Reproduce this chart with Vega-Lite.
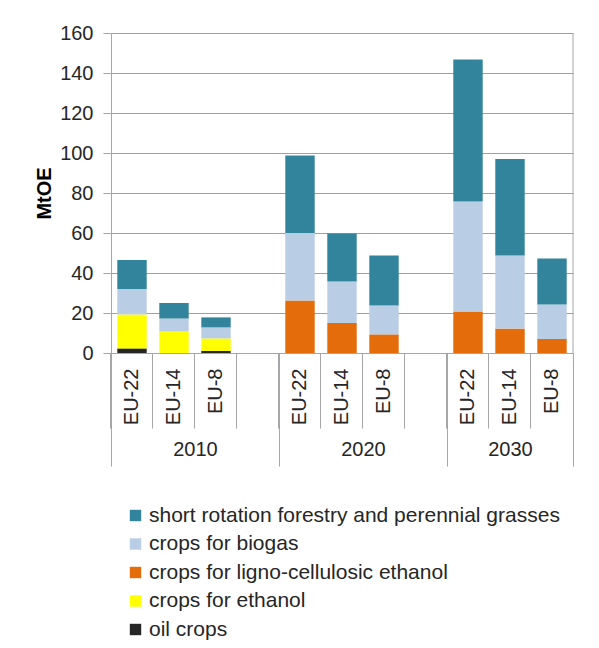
{
  "$schema": "https://vega.github.io/schema/vega-lite/v6.json",
  "width": 462,
  "height": 320,
  "padding": {"left": 34, "top": 23, "right": 5, "bottom": 0},
  "background": "white",
  "config": {
    "font": "Liberation Sans",
    "view": {"stroke": null},
    "axis": {"labelFont": "Liberation Sans", "labelFontSize": 20, "labelColor": "#262626", "titleFont": "Liberation Sans"}
  },
  "layer": [
    {
      "data": {
        "values": [
          {"year": "2010", "region": "EU-22", "category": "oil crops", "value": 2.3},
          {"year": "2010", "region": "EU-22", "category": "crops for ethanol", "value": 17.0},
          {"year": "2010", "region": "EU-22", "category": "crops for biogas", "value": 12.7},
          {"year": "2010", "region": "EU-22", "category": "short rotation forestry and perennial grasses", "value": 14.5},
          {"year": "2010", "region": "EU-14", "category": "crops for ethanol", "value": 10.8},
          {"year": "2010", "region": "EU-14", "category": "crops for biogas", "value": 6.5},
          {"year": "2010", "region": "EU-14", "category": "short rotation forestry and perennial grasses", "value": 7.7},
          {"year": "2010", "region": "EU-8", "category": "oil crops", "value": 1.0},
          {"year": "2010", "region": "EU-8", "category": "crops for ethanol", "value": 6.3},
          {"year": "2010", "region": "EU-8", "category": "crops for biogas", "value": 5.5},
          {"year": "2010", "region": "EU-8", "category": "short rotation forestry and perennial grasses", "value": 5.0},
          {"year": "2020", "region": "EU-22", "category": "crops for ligno-cellulosic ethanol", "value": 26.3},
          {"year": "2020", "region": "EU-22", "category": "crops for biogas", "value": 33.7},
          {"year": "2020", "region": "EU-22", "category": "short rotation forestry and perennial grasses", "value": 38.7},
          {"year": "2020", "region": "EU-14", "category": "crops for ligno-cellulosic ethanol", "value": 15.0},
          {"year": "2020", "region": "EU-14", "category": "crops for biogas", "value": 20.7},
          {"year": "2020", "region": "EU-14", "category": "short rotation forestry and perennial grasses", "value": 24.1},
          {"year": "2020", "region": "EU-8", "category": "crops for ligno-cellulosic ethanol", "value": 9.3},
          {"year": "2020", "region": "EU-8", "category": "crops for biogas", "value": 14.4},
          {"year": "2020", "region": "EU-8", "category": "short rotation forestry and perennial grasses", "value": 25.0},
          {"year": "2030", "region": "EU-22", "category": "crops for ligno-cellulosic ethanol", "value": 20.7},
          {"year": "2030", "region": "EU-22", "category": "crops for biogas", "value": 55.1},
          {"year": "2030", "region": "EU-22", "category": "short rotation forestry and perennial grasses", "value": 70.9},
          {"year": "2030", "region": "EU-14", "category": "crops for ligno-cellulosic ethanol", "value": 12.2},
          {"year": "2030", "region": "EU-14", "category": "crops for biogas", "value": 36.5},
          {"year": "2030", "region": "EU-14", "category": "short rotation forestry and perennial grasses", "value": 48.3},
          {"year": "2030", "region": "EU-8", "category": "crops for ligno-cellulosic ethanol", "value": 7.0},
          {"year": "2030", "region": "EU-8", "category": "crops for biogas", "value": 17.3},
          {"year": "2030", "region": "EU-8", "category": "short rotation forestry and perennial grasses", "value": 23.0}
        ]
      },
      "transform": [
        {"calculate": "datum.year + ' ' + datum.region", "as": "slot"},
        {"calculate": "indexof(['short rotation forestry and perennial grasses','crops for biogas','crops for ligno-cellulosic ethanol','crops for ethanol','oil crops'], datum.category)", "as": "ord"}
      ],
      "mark": {"type": "bar"},
      "encoding": {
        "x": {
          "field": "slot",
          "type": "nominal",
          "scale": {
            "domain": ["2010 EU-22", "2010 EU-14", "2010 EU-8", "2010 gap", "2020 EU-22", "2020 EU-14", "2020 EU-8", "2020 gap", "2030 EU-22", "2030 EU-14", "2030 EU-8"],
            "paddingInner": 0.3,
            "paddingOuter": 0.15
          },
          "axis": {
            "title": null,
            "orient": "bottom",
            "labelAngle": -90,
            "labelAlign": "right",
            "labelBaseline": "middle",
            "labelExpr": "indexof(datum.value, 'gap') >= 0 ? '' : split(datum.value, ' ')[1]",
            "ticks": true,
            "bandPosition": -0.2143,
            "tickSize": 75,
            "tickColor": "#a6a6a6",
            "domainColor": "#a6a6a6",
            "labelPadding": -60
          }
        },
        "y": {
          "field": "value",
          "type": "quantitative",
          "stack": "zero",
          "scale": {"domain": [0, 160], "nice": false},
          "axis": {
            "title": "MtOE",
            "titleFontSize": 20,
            "titleFontWeight": "bold",
            "titleColor": "#000000",
            "values": [0, 20, 40, 60, 80, 100, 120, 140, 160],
            "gridColor": "#a0a0a0",
            "domainColor": "#a6a6a6",
            "tickColor": "#a6a6a6",
            "tickSize": 8,
            "labelPadding": 10,
            "titlePadding": 5
          }
        },
        "color": {
          "field": "category",
          "type": "nominal",
          "scale": {
            "domain": ["short rotation forestry and perennial grasses", "crops for biogas", "crops for ligno-cellulosic ethanol", "crops for ethanol", "oil crops"],
            "range": ["#31849B", "#B9CDE5", "#E46C0A", "#FFFF00", "#262626"]
          },
          "legend": {
            "title": null,
            "orient": "bottom",
            "direction": "vertical",
            "symbolType": "square",
            "symbolSize": 130,
            "symbolStrokeWidth": 0,
            "labelFontSize": 21,
            "labelFont": "Liberation Sans",
            "labelColor": "#262626",
            "labelLimit": 0,
            "labelOffset": 3,
            "rowPadding": 6.5,
            "padding": 14,
            "offset": 24
          }
        },
        "order": {"field": "ord", "type": "quantitative", "sort": "descending"}
      }
    },
    {
      "data": {"values": [{}]},
      "mark": {"type": "rule", "color": "#a6a6a6"},
      "encoding": {
        "x": {
          "datum": 11,
          "type": "quantitative",
          "scale": {"domain": [0, 11], "nice": false, "zero": false},
          "axis": {"title": null, "orient": "bottom", "values": [0, 4, 8, 11], "labels": false, "domain": false, "grid": false, "tickSize": 113, "tickColor": "#a6a6a6"}
        }
      }
    },
    {
      "data": {"values": [{}]},
      "mark": {"type": "rule", "opacity": 0},
      "encoding": {
        "x": {
          "datum": 2,
          "type": "quantitative",
          "scale": {"domain": [0, 11], "nice": false, "zero": false},
          "axis": {"title": null, "orient": "bottom", "values": [2, 6, 9.5], "labelExpr": "datum.value == 2 ? '2010' : datum.value == 6 ? '2020' : '2030'", "ticks": false, "domain": false, "grid": false, "labelPadding": 86, "labelFontSize": 20}
        }
      }
    }
  ],
  "resolve": {"scale": {"x": "independent"}, "axis": {"x": "independent"}}
}
